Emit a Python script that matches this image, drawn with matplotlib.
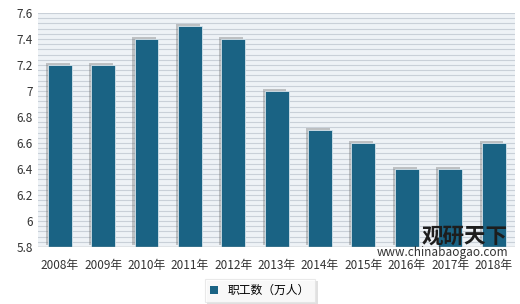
import matplotlib
matplotlib.use("Agg")
import matplotlib.pyplot as plt
import matplotlib.patheffects as pe
from matplotlib.patches import Patch
import numpy as np

plt.rcParams['font.family'] = ['Noto Sans CJK SC', 'DejaVu Sans']

years = ['2008年', '2009年', '2010年', '2011年', '2012年', '2013年', '2014年',
         '2015年', '2016年', '2017年', '2018年']
values = [7.2, 7.2, 7.4, 7.5, 7.4, 7.0, 6.7, 6.6, 6.4, 6.4, 6.6]
series_name = '职工数（万人）'
yticks = [5.8, 6, 6.2, 6.4, 6.6, 6.8, 7, 7.2, 7.4, 7.6]
ytick_labels = ['5.8', '6', '6.2', '6.4', '6.6', '6.8', '7', '7.2', '7.4', '7.6']

fig = plt.figure(figsize=(5.2, 3.04), dpi=100)
ax = fig.add_axes([0.073, 0.1875, 0.918, 0.77])

ymin, ymax = 5.8, 7.6
ax.set_facecolor('#eef2f6')
for y in np.arange(ymin, ymax + 1e-9, 0.04):
    ax.axhline(y, color='#c9d0d8', lw=0.8, zorder=1)

bar_color = '#1a6384'
x = np.arange(len(years))
bars = ax.bar(x, [v - ymin for v in values], bottom=ymin, width=0.55,
              color=bar_color, edgecolor='#d6e4ec', linewidth=0.6, zorder=3)
for b in bars:
    b.set_path_effects([pe.SimplePatchShadow(offset=(-1.5, 1.5), shadow_rgbFace='#666666', alpha=0.35),
                        pe.Normal()])

ax.set_ylim(ymin, ymax)
ax.set_xlim(-0.5, len(years) - 0.5)
ax.set_yticks(yticks)
ax.set_yticklabels(ytick_labels)
ax.set_xticks(x)
ax.set_xticklabels(years)
ax.tick_params(axis='both', length=0, labelsize=8.5, colors='#333333')
ax.tick_params(axis='x', pad=9)
for s in ax.spines.values():
    s.set_visible(False)
ax.axhline(ymin, color='#b0b0b0', lw=1, zorder=4)

handle = Patch(facecolor=bar_color, edgecolor='none')
leg = fig.legend(handles=[handle], labels=[series_name], loc='center',
                 bbox_to_anchor=(0.5, 0.045), frameon=True, fontsize=8.5,
                 handlelength=0.7, handleheight=0.7, borderpad=0.45,
                 fancybox=False, shadow=False)
leg.get_frame().set_edgecolor('#e4e4e4')
leg.get_frame().set_linewidth(0.8)
leg.get_frame().set_path_effects([pe.SimplePatchShadow(offset=(2, -2), shadow_rgbFace='#999999', alpha=0.3),
                                  pe.Normal()])

# watermark
fig.text(0.893, 0.222, '观研天下', fontsize=15.5, fontweight='bold', color='#1d1d1d',
         ha='center', va='center', zorder=10)
fig.text(0.851, 0.168, 'www.chinabaogao.com', fontsize=8.5, color='#333333',
         ha='center', va='center', zorder=10)

fig.savefig('out.png', dpi=100)
